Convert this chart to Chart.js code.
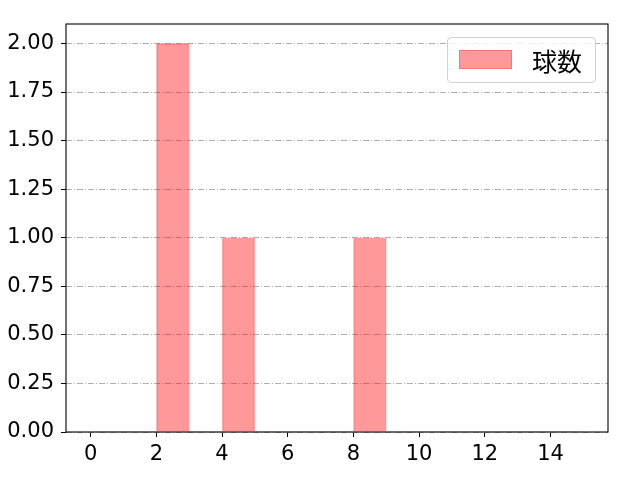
<!DOCTYPE html>
<html>
<head>
<meta charset="utf-8">
<script src="https://cdn.jsdelivr.net/npm/chart.js@4/dist/chart.umd.min.js"></script>
<style>
  html, body { margin: 0; padding: 0; background: #fff; }
  #wrap { position: relative; width: 640px; height: 480px; }
  #legend {
    position: absolute; left: 447px; top: 37px; width: 147px; height: 44px;
    border: 1px solid #d0d0d0; border-radius: 4px; background: rgba(255,255,255,0.8);
    font-family: "Noto Sans CJK JP", sans-serif; font-size: 25px; color: #000;
  }
  #legend .patch {
    position: absolute; left: 11px; top: 12px; width: 51px; height: 17px;
    background: rgba(255,0,0,0.4); border: 1px solid rgba(255,0,0,0.25);
  }
  #legend .label { position: absolute; left: 84px; top: 4px; line-height: 36px; }
</style>
</head>
<body>
<div id="wrap">
  <canvas id="histChart" width="640" height="480"></canvas>
  <div id="legend"><div class="patch"></div><div class="label">球数</div></div>
</div>
<script>
// histogram bins (left edges), bin counts and tick labels
const binEdges = [0, 1, 2, 3, 4, 5, 6, 7, 8, 9, 10, 11, 12, 13, 14];
const counts = [0, 0, 2, 0, 1, 0, 0, 0, 1, 0, 0, 0, 0, 0, 0];
const xTicks = [0, 2, 4, 6, 8, 10, 12, 14];
const yTicks = [0, 0.25, 0.5, 0.75, 1.0, 1.25, 1.5, 1.75, 2.0];
const seriesName = '球数';

const tickFont = { family: '"DejaVu Sans", sans-serif', size: 21 };

// black frame round the plot area, like matplotlib's spines
const framePlugin = {
    id: 'frame',
    afterDraw(chart) {
        const a = chart.chartArea;
        const ctx = chart.ctx;
        ctx.save();
        ctx.strokeStyle = '#000';
        ctx.lineWidth = 1.1;
        ctx.strokeRect(a.left, a.top, a.right - a.left, a.bottom - a.top);
        ctx.restore();
    }
};

const ctx = document.getElementById('histChart').getContext('2d');
new Chart(ctx, {
    type: 'bar',
    data: {
        datasets: [{
            label: seriesName,
            data: binEdges.map((e, i) => ({ x: e + 0.5, y: counts[i] })),
            backgroundColor: 'rgba(255,0,0,0.4)',
            borderColor: 'rgba(255,0,0,0.25)',
            borderWidth: c => (c.raw && c.raw.y > 0 ? 1 : 0),
            borderSkipped: false,
            barPercentage: 1,
            categoryPercentage: 1
        }]
    },
    options: {
        responsive: false,
        devicePixelRatio: 1,
        animation: false,
        layout: { padding: { top: 24, right: 32, left: 0, bottom: 0 } },
        plugins: { legend: { display: false }, tooltip: { enabled: false } },
        scales: {
            x: {
                type: 'linear',
                offset: false,
                min: -0.75,
                max: 15.75,
                afterBuildTicks: s => { s.ticks = xTicks.map(v => ({ value: v })); },
                afterFit: s => { s.height = 48; },
                grid: { offset: false, drawOnChartArea: false, drawTicks: true, tickLength: 5, tickColor: '#000', tickWidth: 1 },
                border: { display: false },
                ticks: { color: '#000', font: tickFont, padding: 5, maxRotation: 0, autoSkip: false }
            },
            y: {
                min: 0,
                max: 2.1,
                afterBuildTicks: s => { s.ticks = yTicks.map(v => ({ value: v })); },
                afterFit: s => { s.width = 66; },
                grid: { color: '#b0b0b0', lineWidth: 1, tickLength: 5, tickColor: '#000', tickWidth: 1, tickBorderDash: [] },
                border: { display: false, dash: [6, 2, 1, 2] },
                ticks: { color: '#000', font: tickFont, padding: 7, callback: v => v.toFixed(2) }
            }
        }
    },
    plugins: [framePlugin]
});
</script>
</body>
</html>
